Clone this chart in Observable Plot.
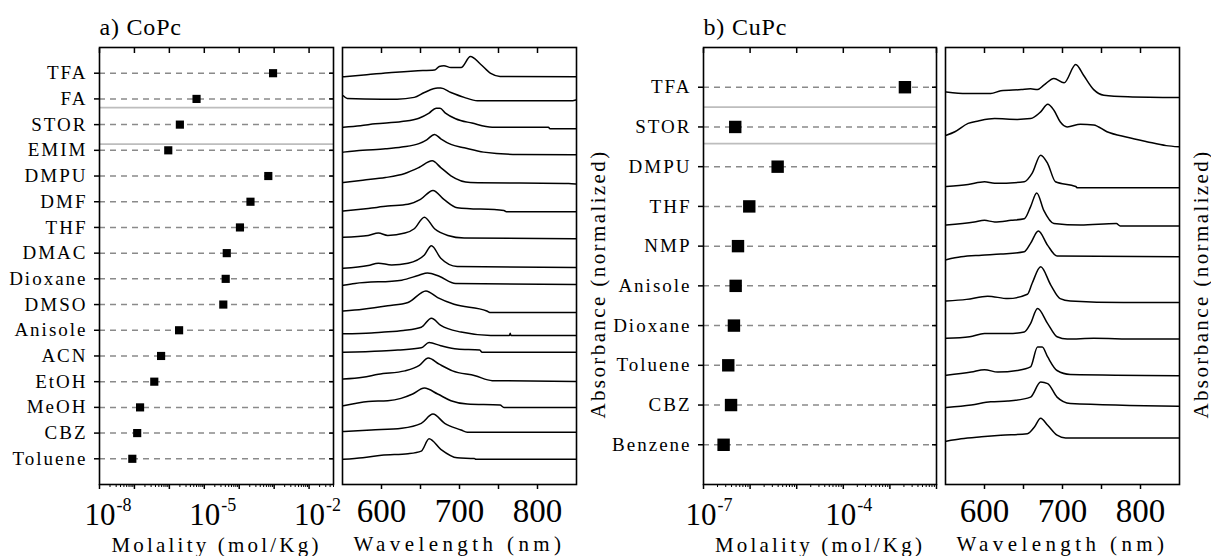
<!DOCTYPE html>
<html><head><meta charset="utf-8">
<script src="https://cdn.jsdelivr.net/npm/d3@7"></script>
<script src="https://cdn.jsdelivr.net/npm/@observablehq/plot@0.6"></script>
<style>
body{margin:0;background:#fff;}
#wrap{position:relative;width:1211px;height:556px;overflow:hidden;background:#fff;}
#wrap > div{position:absolute;top:0;}
#wrap svg, #wrap svg text{font-family:"Liberation Serif","DejaVu Serif",serif !important;}
</style></head><body><div id="wrap"></div>
<script>
const FONT = "Liberation Serif";

// ---------- Panel a) CoPc ----------
const catsA = ["TFA","FA","STOR","EMIM","DMPU","DMF","THF","DMAC","Dioxane","DMSO","Anisole","ACN","EtOH","MeOH","CBZ","Toluene"];
const molA = [9.3e-4, 6e-6, 2e-6, 9.3e-7, 6.8e-4, 2.1e-4, 1.05e-4, 4.4e-5, 4.1e-5, 3.5e-5, 1.9e-6, 5.8e-7, 3.7e-7, 1.45e-7, 1.2e-7, 8.7e-8];
const sepA = [14.66, 13.24];
const molDomainA = [1e-8, 0.05];
const molLabelTicksA = [1e-8, 1e-5, 1e-2];
const specOffsetsA = [15.86,14.93,13.84,12.83,11.71,10.61,9.56,8.44,7.78,6.69,5.80,5.14,4.01,3.00,2.03,0.98];
const specA = [
  [[551,0],[581,.08],[613,.17],[642,.23],[668,.26],[674,.40],[680,.43],[689,.36],[702,.36],[714,.79],[727,.49],[740,.13],[752,.01],[849,0]],
  [[551,.19],[556,.09],[600,.06],[620,.06],[642,.13],[655,.32],[672,.49],[676,.49],[689,.32],[706,.13],[723,0],[845,0],[849,.03]],
  [[551,.06],[573,.12],[592,.19],[626,.28],[648,.41],[661,.61],[670,.80],[675,.80],[682,.61],[695,.39],[716,.22],[742,.06],[814,.06],[816,0],[849,0]],
  [[551,.10],[576,.17],[605,.23],[626,.30],[648,.43],[658,.58],[668,.79],[676,.62],[689,.40],[706,.27],[731,.10],[775,.01],[849,0]],
  [[551,.04],[576,.13],[605,.23],[630,.39],[648,.62],[665,.88],[676,.62],[689,.30],[714,.04],[840,0],[849,-.02]],
  [[551,.03],[583,.13],[608,.22],[634,.29],[650,.48],[666,.83],[680,.48],[697,.16],[757,.05],[760,0],[849,0]],
  [[551,.06],[583,.13],[596,.22],[608,.13],[630,.22],[642,.39],[655,.84],[668,.39],[685,.13],[706,.03],[849,0]],
  [[551,-.03],[583,.08],[596,.17],[613,.10],[634,.17],[655,.49],[664,.85],[676,.36],[697,.04],[849,0]],
  [[551,-.03],[566,.04],[626,.17],[648,.36],[659,.45],[674,.32],[695,.04],[849,0]],
  [[551,.06],[576,.13],[608,.26],[634,.39],[657,.84],[672,.58],[693,.32],[735,.06],[739,0],[849,0]],
  [[551,.06],[587,.09],[600,.12],[628,.19],[651,.32],[664,.67],[676,.39],[702,.13],[740,0],[764,0],[765,.08],[766,0],[849,0]],
  [[551,0],[600,.05],[621,.09],[651,.18],[661,.38],[676,.26],[697,.13],[726,.09],[729,0],[849,0]],
  [[551,.09],[576,.16],[596,.28],[630,.41],[648,.61],[660,.91],[674,.67],[691,.41],[720,.22],[742,.03],[849,0]],
  [[551,.06],[583,.23],[608,.26],[625,.35],[640,.52],[655,.75],[672,.52],[689,.26],[710,.13],[752,.09],[757,0],[849,0]],
  [[551,.03],[587,.09],[626,.16],[651,.35],[666,.71],[681,.35],[702,.09],[710,0],[849,0]],
  [[551,0],[576,.06],[600,.16],[634,.22],[651,.32],[661,.80],[676,.39],[697,.06],[719,.03],[721,0],[849,0]]
];

// ---------- Panel b) CuPc ----------
const catsB = ["TFA","STOR","DMPU","THF","NMP","Anisole","Dioxane","Toluene","CBZ","Benzene"];
const molB = [2.1e-3, 4.8e-7, 3.9e-6, 9.6e-7, 5.5e-7, 4.9e-7, 4.5e-7, 3.4e-7, 3.9e-7, 2.7e-7];
const sepB = [9.50, 8.58];
const molDomainB = [1e-7, 1e-2];
const molLabelTicksB = [1e-7, 1e-4];
const specOffsetsB = [9.74, 8.50, 7.47, 6.51, 5.73, 4.58, 3.66, 2.74, 1.97, 1.17];
const specB = [
  [[551,.14],[577,.10],[608,.10],[621,.17],[647,.20],[659,.22],[668,.20],[676,.31],[689,.48],[702,.37],[717,.83],[727,.56],[740,.20],[753,.06],[784,.02],[849,0]],
  [[551,.29],[562,.38],[579,.59],[592,.65],[613,.71],[642,.69],[659,.71],[672,.88],[681,1.07],[689,.92],[697,.63],[706,.50],[723,.57],[740,.55],[757,.38],[783,.24],[808,.13],[833,.03],[849,0]],
  [[551,.03],[579,.08],[600,.15],[613,.11],[651,.15],[661,.36],[672,.82],[681,.61],[691,.15],[717,.03],[719,0],[849,0]],
  [[551,.02],[587,.10],[600,.14],[613,.10],[634,.14],[651,.18],[659,.48],[667,.83],[676,.39],[689,.06],[723,.02],[769,.06],[774,0],[849,0]],
  [[551,-.07],[570,0],[596,.04],[621,.07],[651,.13],[659,.34],[669,.65],[681,.29],[693,.02],[849,0]],
  [[551,.04],[577,.08],[604,.16],[630,.10],[655,.21],[661,.48],[672,.90],[685,.44],[697,.10],[710,.04],[778,0],[849,0]],
  [[551,.02],[581,.06],[600,.14],[630,.14],[651,.18],[659,.39],[668,.77],[681,.39],[693,.06],[706,0],[740,.02],[795,0],[849,0]],
  [[551,.01],[583,.09],[600,.15],[617,.09],[642,.13],[659,.22],[668,.72],[674,.72],[681,.47],[693,.13],[710,.03],[849,0]],
  [[551,-.03],[583,.03],[608,.11],[630,.13],[659,.23],[672,.61],[681,.57],[693,.23],[710,.07],[849,0]],
  [[551,-.08],[570,-.02],[596,.03],[621,.07],[655,.11],[664,.28],[672,.50],[681,.32],[693,.07],[704,0],[849,0]]
];

const wlDomain = [550, 850];
const wlTicks = [600, 650, 700, 750, 800];

const spacing = {
  "Molality (mol/Kg)": "3.2px",
  "Wavelength (nm)": "4.4px",
  "Absorbance (normalized)": "2.4px",
  "a) CoPc": "0.8px",
  "b) CuPc": "0.8px"
};
function applySpacing(svg) {
  svg.querySelectorAll("text").forEach(t => {
    const s = spacing[t.textContent];
    if (s) t.style.letterSpacing = s;
  });
  svg.querySelectorAll('[aria-label="y-axis tick label"] text').forEach(t => t.style.letterSpacing = "2px");
  return svg;
}

function molPlot({cats, mol, seps, domain, labelTicks, r, width, mL, mR, title, expDx}) {
  const n = cats.length;
  const rows = cats.map((c, i) => ({c, y: n - i, m: mol[i]}));
  const e0 = Math.round(Math.log10(domain[0])), e1 = Math.floor(Math.log10(domain[1]) + 1e-9);
  const decades = d3.range(e0, e1 + 1).map(e => Math.pow(10, e));
  const minors = [];
  decades.forEach(d => { for (let k = 2; k < 10; k++) if (d * k <= domain[1]) minors.push(d * k); });
  const ys = rows.map(d => d.y);
  return applySpacing(Plot.plot({
    width, height: 556, marginLeft: mL, marginRight: mR, marginTop: 47, marginBottom: 72,
    style: {background: "none", overflow: "visible", color: "#000"},
    x: {type: "log", domain, label: null, axis: null},
    y: {domain: [0, n + 1], label: null, axis: null},
    marks: [
      Plot.ruleY(seps, {stroke: "#bdbdbd", strokeWidth: 1.8}),
      Plot.ruleY(rows, {y: "y", stroke: "#8a8a8a", strokeWidth: 1.5, strokeDasharray: "6,5"}),
      Plot.dot(rows, {x: "m", y: "y", symbol: "square", r, fill: "#000", stroke: null}),
      Plot.frame({stroke: "#000", strokeWidth: 1.6}),
      Plot.axisY({anchor: "left", ticks: ys, tickSize: 5, tickPadding: 7, tickFormat: y => cats[n - y], fontSize: 19, fontFamily: FONT, label: null, strokeWidth: 1.5}),
      Plot.axisY({anchor: "right", ticks: ys, tickSize: 5, dx: -5, tickFormat: () => "", label: null, strokeWidth: 1.5}),
      Plot.axisX({anchor: "top", ticks: decades, tickSize: 5, dy: 5, tickFormat: () => "", label: null, strokeWidth: 1.5}),
      Plot.axisX({anchor: "bottom", ticks: decades, tickSize: 5, tickFormat: () => "", label: null, strokeWidth: 1.5}),
      Plot.axisX({anchor: "bottom", ticks: minors, tickSize: 3, tickFormat: () => "", label: null}),
      Plot.text(labelTicks, {x: d => d, text: () => "10", frameAnchor: "bottom", textAnchor: "end", lineAnchor: "bottom", dx: expDx, dy: 40, fontSize: 31, fontFamily: FONT}),
      Plot.text(labelTicks, {x: d => d, text: d => "-" + String(Math.abs(Math.round(Math.log10(d)))), frameAnchor: "bottom", textAnchor: "start", lineAnchor: "bottom", dx: expDx + 1, dy: 26, fontSize: 18, fontFamily: FONT}),
      Plot.text(["Molality (mol/Kg)"], {text: d => d, frameAnchor: "bottom", lineAnchor: "bottom", dy: 67, fontSize: 21, fontFamily: FONT}),
      Plot.text([title], {text: d => d, frameAnchor: "top-left", textAnchor: "start", lineAnchor: "bottom", dx: 0, dy: -13, fontSize: 24, fontFamily: FONT})
    ]
  }));
}

function specPlot({offsets, points, n, width, mL, mR}) {
  const data = points.flatMap((pts, i) => pts.map(([w, a]) => ({i, w, y: offsets[i] + a})));
  return applySpacing(Plot.plot({
    width, height: 556, marginLeft: mL, marginRight: mR, marginTop: 47, marginBottom: 72,
    style: {background: "none", overflow: "visible", color: "#000"},
    x: {domain: wlDomain, label: null, axis: null},
    y: {domain: [0, n + 1], label: null, axis: null},
    marks: [
      Plot.line(data, {x: "w", y: "y", z: "i", stroke: "#000", strokeWidth: 1.5, curve: "monotone-x"}),
      Plot.frame({stroke: "#000", strokeWidth: 1.6}),
      Plot.axisX({anchor: "top", ticks: wlTicks, tickSize: 5, dy: 5, tickFormat: () => "", label: null, strokeWidth: 1.5}),
      Plot.axisX({anchor: "bottom", ticks: wlTicks, tickSize: 5, tickPadding: 9, tickFormat: d => d % 100 === 0 ? String(d) : "", fontSize: 33, fontFamily: FONT, label: null, strokeWidth: 1.5}),
      Plot.text(["Wavelength (nm)"], {text: d => d, frameAnchor: "bottom", lineAnchor: "bottom", dy: 66, fontSize: 21, fontFamily: FONT}),
      Plot.text(["Absorbance (normalized)"], {text: d => d, frameAnchor: "right", textAnchor: "middle", rotate: -90, lineAnchor: "bottom", dx: 28, dy: 18, fontSize: 21, fontFamily: FONT})
    ]
  }));
}

function place(el, left, width) {
  const d = document.createElement("div");
  d.style.left = left + "px";
  d.style.width = width + "px";
  d.appendChild(el);
  document.getElementById("wrap").appendChild(d);
}

place(molPlot({cats: catsA, mol: molA, seps: sepA, domain: molDomainA, labelTicks: molLabelTicksA, r: 4.6, width: 340, mL: 99, mR: 7, title: "a) CoPc", expDx: 16}), 0, 340);
place(specPlot({offsets: specOffsetsA, points: specA, n: catsA.length, width: 285, mL: 12, mR: 39}), 330, 285);
place(molPlot({cats: catsB, mol: molB, seps: sepB, domain: molDomainB, labelTicks: molLabelTicksB, r: 7, width: 345, mL: 103, mR: 9, title: "b) CuPc", expDx: 13}), 600, 345);
place(specPlot({offsets: specOffsetsB, points: specB, n: catsB.length, width: 281, mL: 15, mR: 32}), 930, 281);
</script></body></html>
